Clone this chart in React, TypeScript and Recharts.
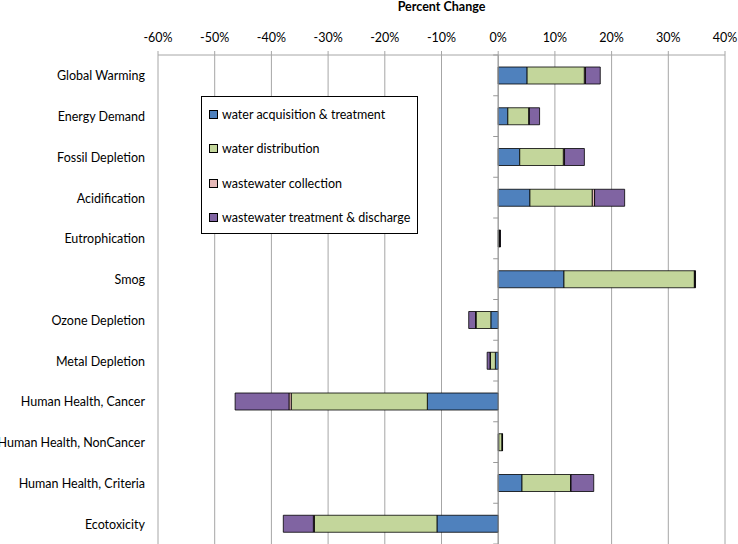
import { BarChart, Bar, XAxis, YAxis, CartesianGrid, ReferenceLine } from 'recharts';

const categories = [
  'Global Warming',
  'Energy Demand',
  'Fossil Depletion',
  'Acidification',
  'Eutrophication',
  'Smog',
  'Ozone Depletion',
  'Metal Depletion',
  'Human Health, Cancer',
  'Human Health, NonCancer',
  'Human Health, Criteria',
  'Ecotoxicity',
];

// percent change by life-cycle stage
const acquisition = [5.1, 1.7, 3.8, 5.6, 0.1, 11.6, -1.3, -0.5, -12.5, 0.1, 4.2, -10.8];
const distribution = [10.1, 3.7, 7.7, 11.0, 0.15, 23.0, -2.6, -0.9, -24.0, 0.6, 8.6, -21.6];
const collection = [0.2, 0.1, 0.2, 0.4, 0.05, 0.1, -0.1, -0.05, -0.4, 0.02, 0.05, -0.2];
const treatment = [2.6, 1.8, 3.5, 5.3, 0.1, 0.1, -1.2, -0.5, -9.5, 0.05, 4.0, -5.3];

const ticks = [-60, -50, -40, -30, -20, -10, 0, 10, 20, 30, 40];

const series = [
  { key: 'acquisition', name: 'water acquisition & treatment', color: '#4F81BD' },
  { key: 'distribution', name: 'water distribution', color: '#C3D69B' },
  { key: 'collection', name: 'wastewater collection', color: '#E6B9B8' },
  { key: 'treatment', name: 'wastewater treatment & discharge', color: '#8064A2' },
];

const data = categories.map((name, i) => ({
  name,
  acquisition: acquisition[i],
  distribution: distribution[i],
  collection: collection[i],
  treatment: treatment[i],
}));

const W = 738;
const H = 544;
const LEFT = 158;
const RIGHT = 13;
const TOP = 55;
const FONT = 'Lato, "Open Sans", sans-serif';

const plotW = W - LEFT - RIGHT;
const zeroX = LEFT + ((0 - ticks[0]) / (ticks[ticks.length - 1] - ticks[0])) * plotW;
const band = (H - TOP) / categories.length;

const CategoryTick = (props: any) => {
  const { x, y, payload, index } = props;
  const last = index === categories.length - 1;
  return (
    <g>
      <text x={x} y={y} dy={5} textAnchor="end" fontSize={12.5} fill="#000" fontFamily={FONT}>
        {payload.value}
      </text>
      <line x1={zeroX - 5} x2={zeroX} y1={y - band / 2} y2={y - band / 2} stroke="#999" />
      {last && <line x1={zeroX - 5} x2={zeroX} y1={y + band / 2} y2={y + band / 2} stroke="#999" />}
    </g>
  );
};

export default function App() {
  return (
    <div style={{ position: 'relative', width: W, height: H }}>
      <style>{'body{margin:0;overflow:hidden}'}</style>
      <div
        style={{
          position: 'absolute',
          left: LEFT,
          width: plotW,
          top: 0,
          textAlign: 'center',
          fontFamily: FONT,
          fontWeight: 700,
          fontSize: 12.5,
          lineHeight: '14px',
        }}
      >
        Percent Change
      </div>
      <BarChart
        width={W}
        height={H}
        data={data}
        layout="vertical"
        stackOffset="sign"
        barSize={17}
        margin={{ top: 0, right: RIGHT, bottom: 0, left: 0 }}
      >
        <CartesianGrid horizontal={false} stroke="#a6a6a6" />
        <XAxis
          type="number"
          orientation="top"
          domain={[ticks[0], ticks[ticks.length - 1]]}
          ticks={ticks}
          tickFormatter={(v: number) => `${v}%`}
          height={TOP}
          stroke="#a6a6a6"
          tickSize={4}
          tickMargin={9}
          tick={{ fill: '#000', fontSize: 12.5, fontFamily: FONT }}
          interval={0}
        />
        <YAxis
          type="category"
          dataKey="name"
          width={LEFT}
          axisLine={false}
          tickLine={false}
          tickSize={0}
          tickMargin={13}
          interval={0}
          tick={<CategoryTick />}
        />
        <ReferenceLine x={0} stroke="#999" />
        {series.map((s) => (
          <Bar
            key={s.key}
            dataKey={s.key}
            name={s.name}
            stackId="s"
            fill={s.color}
            stroke="#000"
            strokeWidth={0.8}
            isAnimationActive={false}
          />
        ))}
      </BarChart>
      <div
        style={{
          position: 'absolute',
          left: 201,
          top: 96,
          width: 217,
          height: 138,
          boxSizing: 'border-box',
          border: '1px solid #000',
          background: '#fff',
          padding: '0 0 0 7px',
          fontFamily: FONT,
          fontSize: 12.5,
        }}
      >
        {series.map((s) => (
          <div key={s.key} style={{ display: 'flex', alignItems: 'center', height: 34.5 }}>
            <span
              style={{
                display: 'inline-block',
                width: 7,
                height: 7,
                background: s.color,
                border: '1px solid #000',
                marginRight: 4,
              }}
            />
            <span>{s.name}</span>
          </div>
        ))}
      </div>
    </div>
  );
}
